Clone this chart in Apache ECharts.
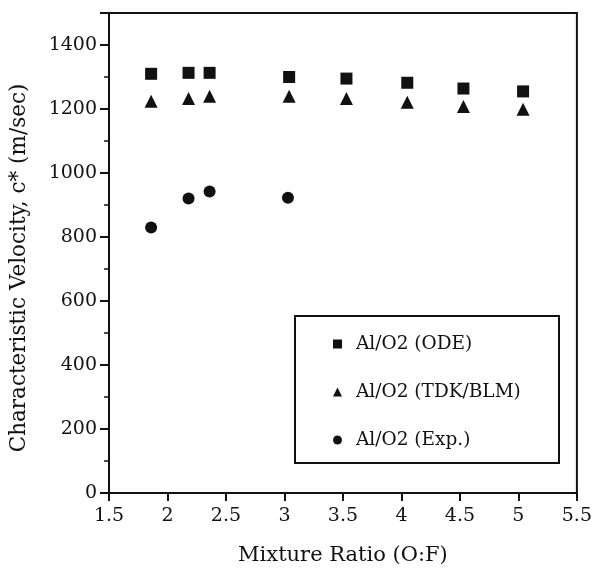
<!DOCTYPE html>
<html>
<head>
<meta charset="utf-8">
<script src="https://cdn.jsdelivr.net/npm/echarts@6/dist/echarts.min.js"></script>
<style>
  html, body { margin: 0; padding: 0; background: #fff; }
  #main { width: 595px; height: 571px; }
</style>
</head>
<body>
<div id="main"></div>
<script>
// mixture ratio (O:F) and c* values
const odeX = [1.86, 2.18, 2.36, 3.04, 3.53, 4.05, 4.53, 5.04];
const odeY = [1310, 1313, 1313, 1300, 1295, 1282, 1264, 1255];
const tdkX = [1.86, 2.18, 2.36, 3.04, 3.53, 4.05, 4.53, 5.04];
const tdkY = [1224, 1233, 1240, 1240, 1233, 1221, 1208, 1199];
const expX = [1.86, 2.18, 2.36, 3.03];
const expY = [830, 920, 942, 923];
const seriesNames = ["Al/O2 (ODE)", "Al/O2 (TDK/BLM)", "Al/O2 (Exp.)"];

const font = "'DejaVu Serif', 'Liberation Serif', serif";
const pairs = (xs, ys) => xs.map((x, i) => [x, ys[i]]);

let myChart = echarts.init(document.getElementById("main"));
let option = {
  animation: false,
  backgroundColor: "#fff",
  textStyle: { fontFamily: font, color: "#111" },
  grid: {
    left: 109, top: 13, right: 17, bottom: 75,
    show: true, borderColor: "#111", borderWidth: 2
  },
  legend: {
    orient: "vertical",
    left: 328, top: 329,
    itemGap: 28,
    itemWidth: 9, itemHeight: 9,
    textStyle: {
      fontFamily: font, fontSize: 18.5, color: "#111",
      lineHeight: 20, padding: [0, 0, 0, 9]
    },
    data: seriesNames
  },
  graphic: [{
    type: "rect",
    shape: { x: 295, y: 316, width: 264, height: 147 },
    style: { fill: "none", stroke: "#111", lineWidth: 2 }
  }],
  xAxis: {
    type: "value",
    min: 1.5, max: 5.5, interval: 0.5,
    name: "Mixture Ratio (O:F)",
    nameLocation: "middle", nameGap: 52,
    nameTextStyle: { fontFamily: font, fontSize: 21, color: "#111" },
    axisLine: { show: true, lineStyle: { color: "#111", width: 2 } },
    axisTick: { show: true, inside: false, length: 8, lineStyle: { color: "#111", width: 2 } },
    axisLabel: { fontSize: 19, color: "#111", margin: 14, fontFamily: font },
    splitLine: { show: false }
  },
  yAxis: [
    {
      // major ticks and labels
      type: "value",
      min: 0, max: 1500, interval: 200,
      name: "Characteristic Velocity, c* (m/sec)",
      nameLocation: "middle", nameGap: 79,
      nameTextStyle: { fontFamily: font, fontSize: 21.5, color: "#111", padding: [0, 30, 0, 0] },
      axisLine: { show: true, lineStyle: { color: "#111", width: 2 } },
      axisTick: { show: true, length: 9, lineStyle: { color: "#111", width: 2 } },
      axisLabel: {
        fontSize: 19, color: "#111", margin: 12, fontFamily: font,
        formatter: v => (v <= 1400 ? String(v) : "")
      },
      splitLine: { show: false }
    },
    {
      // minor ticks every 100
      type: "value",
      position: "left",
      min: 0, max: 1500, interval: 100,
      axisLine: { show: false },
      axisTick: { show: true, length: 5, lineStyle: { color: "#111", width: 1.5 } },
      axisLabel: { show: false },
      splitLine: { show: false }
    }
  ],
  series: [
    {
      name: seriesNames[0], type: "scatter", symbol: "rect", symbolSize: 12,
      itemStyle: { color: "#111", opacity: 1 }, data: pairs(odeX, odeY)
    },
    {
      name: seriesNames[1], type: "scatter", symbol: "triangle", symbolSize: 13,
      itemStyle: { color: "#111", opacity: 1 }, data: pairs(tdkX, tdkY)
    },
    {
      name: seriesNames[2], type: "scatter", symbol: "circle", symbolSize: 12,
      itemStyle: { color: "#111", opacity: 1 }, data: pairs(expX, expY)
    }
  ]
};
myChart.setOption(option);
</script>
</body>
</html>
